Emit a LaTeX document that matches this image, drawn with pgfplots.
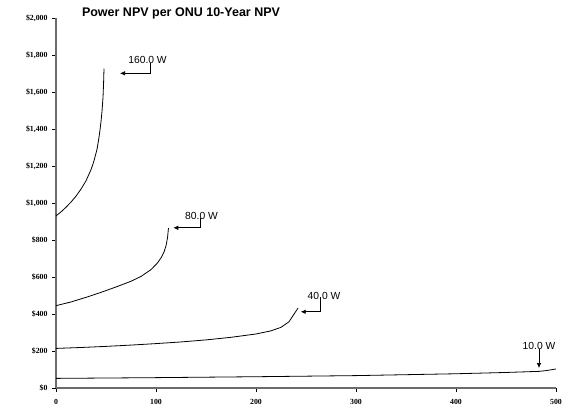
\documentclass[border=0pt]{standalone}
\usepackage{fontspec}
\setmainfont{Liberation Serif}
\newfontfamily\arial{Liberation Sans}
\usepackage{pgfplots}
\pgfplotsset{compat=1.18}
\usetikzlibrary{arrows.meta}

\begin{document}
\begin{tikzpicture}
\useasboundingbox (-56pt,-20pt) rectangle (506pt,388pt);
\begin{axis}[
    at={(0,0)}, anchor=south west,
    scale only axis,
    width=500pt, height=370pt,
    xmin=0, xmax=500, ymin=0, ymax=2000,
    axis lines*=left,
    axis line style={gray!85!black, line width=1.3pt},
    xtick={0,100,...,500},
    ytick={0,200,...,2000},
    tick align=outside,
    major tick length=4pt,
    tick style={black, line width=0.6pt},
    /pgf/number format/assume math mode=true,
    /pgf/number format/.cd, fixed, precision=0, 1000 sep={,}, /pgfplots/.cd,
    yticklabel={\$\pgfmathprintnumber{\tick}},
    ticklabel style={font=\bfseries\fontsize{7.8}{9}\selectfont},
    xticklabel style={yshift=-4pt},
    yticklabel style={xshift=-1pt},
    clip=false,
]
% 160 W
\addplot[black, line width=0.8pt, no marks] coordinates {
  (0,930) (5,952) (10,977) (15,1005) (20,1037) (25,1075) (30,1120)
  (35,1180) (38,1228) (41,1290) (43,1355) (44,1395) (45,1440)
  (46,1495) (47,1570) (47.6,1650) (48,1727)
};
% 80 W
\addplot[black, line width=0.8pt, no marks] coordinates {
  (0,445) (15,465) (30,490) (45,517) (60,546) (75,577) (85,603)
  (95,640) (101,673) (105,703) (108,735) (110,768) (111.5,812) (112.5,865)
};
% 40 W
\addplot[black, line width=0.8pt, no marks] coordinates {
  (0,214) (25,219) (50,225) (75,232) (100,240) (125,249) (150,260)
  (175,274) (200,292) (215,309) (225,328) (233,358) (242,432)
};
% 10 W
\addplot[black, line width=0.8pt, no marks] coordinates {
  (0,52) (100,56) (200,61) (250,64) (300,67) (350,72) (400,77)
  (450,84) (483,90) (490,94) (500,103)
};

\node[font=\bfseries\arial\fontsize{12.5}{14}\selectfont] at (axis cs:125,2027) {Power NPV per ONU 10-Year NPV};

\begin{scope}[font=\arial\fontsize{10.3}{12}\selectfont]
\node at (axis cs:91.5,1773) {160.0 W};
\draw[line width=0.7pt, -{Latex[length=5pt,width=4.5pt]}] (axis cs:94,1757) -- (axis cs:94,1701) -- (axis cs:64,1701);
\node at (axis cs:145.5,930) {80.0 W};
\draw[line width=0.7pt, -{Latex[length=5pt,width=4.5pt]}] (axis cs:144.7,919) -- (axis cs:144.7,866) -- (axis cs:117.3,866);
\node at (axis cs:268,497) {40.0 W};
\draw[line width=0.7pt, -{Latex[length=5pt,width=4.5pt]}] (axis cs:264,492) -- (axis cs:264,412) -- (axis cs:244.7,412);
\node at (axis cs:483,227) {10.0 W};
\draw[line width=0.7pt, -{Latex[length=5pt,width=4.5pt]}] (axis cs:483,211) -- (axis cs:483,108);
\end{scope}
\end{axis}
\end{tikzpicture}
\end{document}
